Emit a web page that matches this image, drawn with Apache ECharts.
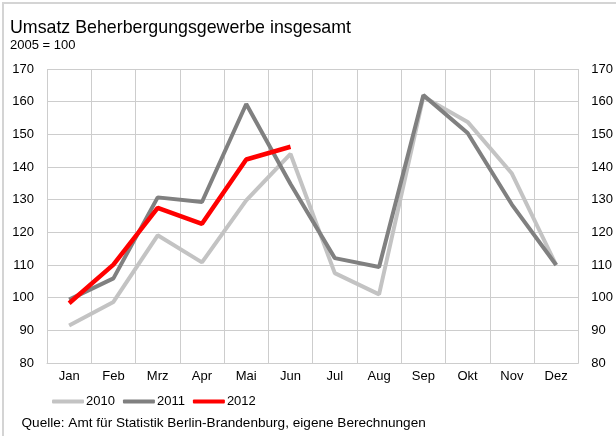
<!DOCTYPE html>
<html>
<head>
<meta charset="utf-8">
<script src="https://cdn.jsdelivr.net/npm/echarts@6/dist/echarts.min.js"></script>
<style>
  html, body { margin: 0; padding: 0; background: #ffffff; }
  #chart { width: 616px; height: 436px; }
</style>
</head>
<body>
<div id="chart"></div>
<script>
// Monatsnamen und Umsatzindex (2005 = 100)
const months = ['Jan', 'Feb', 'Mrz', 'Apr', 'Mai', 'Jun', 'Jul', 'Aug', 'Sep', 'Okt', 'Nov', 'Dez'];
const values2010 = [91.5, 98.7, 119.1, 110.8, 129.8, 144.0, 107.5, 101.0, 161.5, 153.8, 138.0, 110.0];
const values2011 = [99.4, 105.9, 130.7, 129.3, 159.3, 134.8, 112.1, 109.4, 162.0, 150.4, 128.5, 110.0];
const values2012 = [98.3, 110.1, 127.5, 122.6, 142.3, 146.2];
const yTicks = { min: 80, max: 170, step: 10 };

const font = '"Liberation Sans", Arial, sans-serif';
const gridColor = '#cdcdcd';

const chart = echarts.init(document.getElementById('chart'), null, { renderer: 'canvas' });

const valueAxis = (pos, showSplit) => ({
  type: 'value',
  position: pos,
  min: yTicks.min,
  max: yTicks.max,
  interval: yTicks.step,
  axisLine: { show: false },
  axisTick: { show: false },
  splitLine: { show: showSplit, lineStyle: { color: gridColor, width: 1 } },
  axisLabel: { color: '#000', fontFamily: font, fontSize: 13, margin: pos === 'left' ? 13 : 13 }
});

chart.setOption({
  animation: false,
  backgroundColor: '#ffffff',
  textStyle: { fontFamily: font },
  title: [
    { text: 'Umsatz Beherbergungsgewerbe insgesamt', left: 5, top: 14,
      textStyle: { fontFamily: font, fontSize: 17.8, fontWeight: 'normal', color: '#000' } },
    { text: '2005 = 100', left: 5, top: 34,
      textStyle: { fontFamily: font, fontSize: 13, fontWeight: 'normal', color: '#000' } },
    { text: 'Quelle: Amt für Statistik Berlin-Brandenburg, eigene Berechnungen', left: 16.5, top: 411,
      textStyle: { fontFamily: font, fontSize: 13.6, fontWeight: 'normal', color: '#000' } }
  ],
  graphic: [
    { type: 'rect', silent: true, z: -1,
      shape: { x: 3, y: 3, width: 800, height: 600 },
      style: { fill: 'none', stroke: '#d4d4d4', lineWidth: 2 } }
  ],
  legend: {
    left: 47,
    top: 390,
    icon: 'roundRect',
    itemWidth: 32,
    itemHeight: 4,
    itemGap: 8,
    textStyle: { fontFamily: font, fontSize: 13, color: '#000', padding: [0, 0, 0, -3] },
    data: ['2010', '2011', '2012']
  },
  grid: { left: 47, right: 34, top: 69, bottom: 73, containLabel: false },
  xAxis: {
    type: 'category',
    data: months,
    boundaryGap: true,
    axisLine: { show: true, lineStyle: { color: gridColor, width: 1 } },
    axisTick: { show: false },
    splitLine: { show: true, lineStyle: { color: gridColor, width: 1 } },
    axisLabel: { color: '#000', fontFamily: font, fontSize: 13, margin: 7 }
  },
  yAxis: [valueAxis('left', true), valueAxis('right', false)],
  series: [
    { name: '2010', type: 'line', data: values2010, showSymbol: false, symbol: 'none',
      color: '#c3c3c3', lineStyle: { color: '#c3c3c3', width: 4 }, z: 2 },
    { name: '2011', type: 'line', data: values2011, showSymbol: false, symbol: 'none',
      color: '#808080', lineStyle: { color: '#808080', width: 4 }, z: 3 },
    { name: '2012', type: 'line', data: values2012, showSymbol: false, symbol: 'none',
      color: '#ff0000', lineStyle: { color: '#ff0000', width: 4.5 }, z: 4 }
  ]
});
</script>
</body>
</html>
